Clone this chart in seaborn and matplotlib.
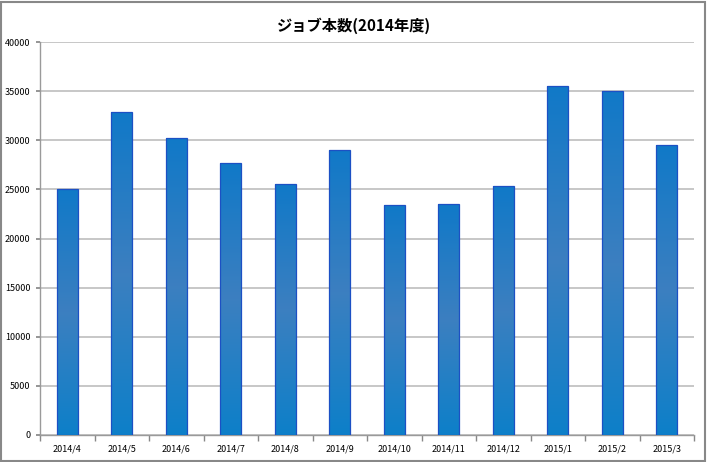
import matplotlib
matplotlib.use("Agg")
import matplotlib.pyplot as plt
import seaborn as sns
import numpy as np
import pandas as pd
from matplotlib.patches import Rectangle
from matplotlib.colors import LinearSegmentedColormap

months = ["2014/4", "2014/5", "2014/6", "2014/7", "2014/8", "2014/9",
          "2014/10", "2014/11", "2014/12", "2015/1", "2015/2", "2015/3"]
jobs = [25000, 32900, 30250, 27700, 25550, 29050,
        23400, 23500, 25300, 35550, 35050, 29500]
title = "ジョブ本数(2014年度)"
yticks = [0, 5000, 10000, 15000, 20000, 25000, 30000, 35000, 40000]

sns.set_theme(style="white")
plt.rcParams['font.family'] = ['Noto Sans CJK JP', 'DejaVu Sans']

df = pd.DataFrame({"month": months, "jobs": jobs})

fig = plt.figure(figsize=(7.07, 4.62), dpi=100)
ax = fig.add_axes([40 / 707, 27 / 462, 654 / 707, 393 / 462])

sns.barplot(data=df, x="month", y="jobs", ax=ax, color="#2F80C4", saturation=1,
            width=0.38, edgecolor="#1C50C4", linewidth=0.9, zorder=3)

ax.set_ylim(0, 40000)
ax.set_xlim(-0.5, len(months) - 0.5)

# gradient fill for each bar (top -> middle -> bottom)
cmap = LinearSegmentedColormap.from_list("bar", ["#1079C8", "#3C7FC0", "#0D80C9"])
grad = np.linspace(0, 1, 256).reshape(-1, 1)
for p in list(ax.patches):
    x0, y0 = p.get_x(), p.get_y()
    w, h = p.get_width(), p.get_height()
    im = ax.imshow(grad, cmap=cmap, aspect="auto", extent=[x0, x0 + w, y0, y0 + h],
                   origin="upper", zorder=3.5)
    im.set_clip_path(p)
    p.set_zorder(4)
    p.set_facecolor("none")
ax.set_xlim(-0.5, len(months) - 0.5)
ax.set_ylim(0, 40000)

ax.set_yticks(yticks)
ax.set_yticklabels([str(v) for v in yticks], fontsize=6.5, color="black")
ax.tick_params(axis="x", labelsize=6.5, length=0, pad=7, labelcolor="black")
ax.tick_params(axis="y", length=3, color="#888888", direction="out", pad=4, left=True)
ax.set_xlabel("")
ax.set_ylabel("")

ax.set_xticks(np.arange(-0.5, len(months), 1.0), minor=True)
ax.tick_params(axis="x", which="minor", length=4, color="#888888", direction="out", bottom=True)

ax.yaxis.grid(True, color="#BDBDBD", linewidth=1.2, zorder=0)
ax.xaxis.grid(False)
for s in ["top", "right"]:
    ax.spines[s].set_visible(False)
for s in ["left", "bottom"]:
    ax.spines[s].set_color("#9A9A9A")
    ax.spines[s].set_linewidth(1.0)

fig.suptitle(title, y=0.962, fontsize=11, fontweight="bold", color="black")

fig.patches.append(Rectangle((0.002, 0.003), 0.995, 0.993, transform=fig.transFigure,
                             fill=False, edgecolor="#888888", linewidth=1.5))

fig.savefig("out.png", dpi=100)
